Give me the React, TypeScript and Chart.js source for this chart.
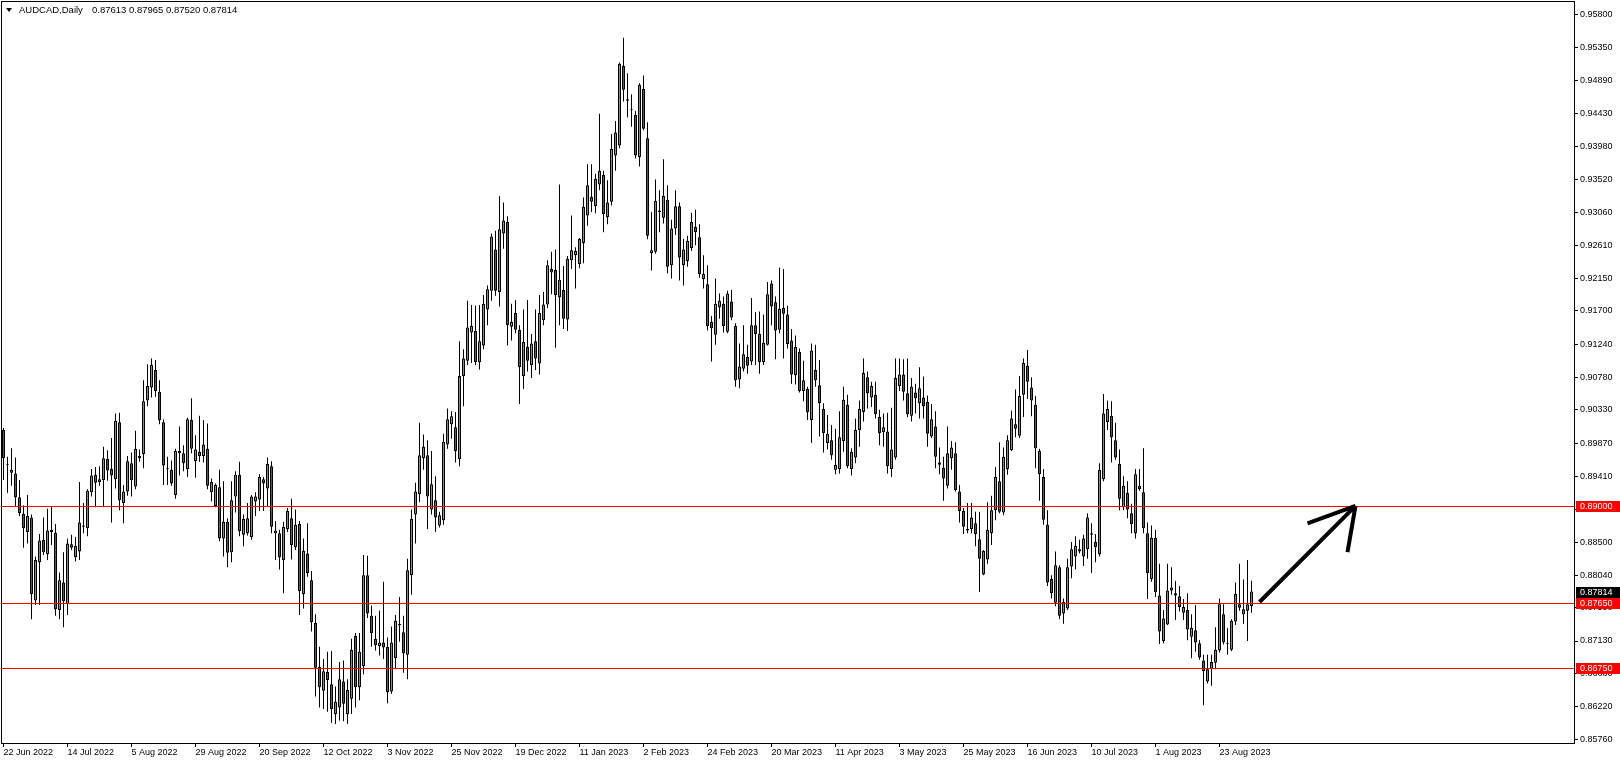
import React, { useEffect, useRef } from 'react';
import { Chart, registerables } from 'chart.js';

Chart.register(...registerables);

// ---------- data ----------
const symbolTitle = 'AUDCAD,Daily';
const headerValues = ['0.87613', '0.87965', '0.87520', '0.87814'];

const dateLabels = [
  '22 Jun 2022', '14 Jul 2022', '5 Aug 2022', '29 Aug 2022', '20 Sep 2022',
  '12 Oct 2022', '3 Nov 2022', '25 Nov 2022', '19 Dec 2022', '11 Jan 2023',
  '2 Feb 2023', '24 Feb 2023', '20 Mar 2023', '11 Apr 2023', '3 May 2023',
  '25 May 2023', '16 Jun 2023', '10 Jul 2023', '1 Aug 2023', '23 Aug 2023',
];
const barsPerLabel = 16;

const priceTicks = [
  0.958, 0.9535, 0.9489, 0.9443, 0.9398, 0.9352, 0.9306, 0.9261, 0.9215, 0.917,
  0.9124, 0.9078, 0.9033, 0.8987, 0.8941, 0.8895, 0.885, 0.8804, 0.8759, 0.8713,
  0.8668, 0.8622, 0.8576,
];

const opens = [
  0.9005, 0.8957, 0.8946, 0.8945, 0.8912, 0.8889, 0.8864, 0.8884, 0.8769, 0.8822,
  0.8853, 0.8833, 0.8867, 0.8863, 0.8756, 0.8794, 0.8764, 0.8847, 0.8829, 0.8837,
  0.8873, 0.8869, 0.8919, 0.8943, 0.8933, 0.8936, 0.8965, 0.8951, 0.8937, 0.9016,
  0.8904, 0.8920, 0.8959, 0.8927, 0.8966, 0.8972, 0.9046, 0.9064, 0.9088, 0.9058,
  0.9016, 0.8952, 0.8950, 0.8915, 0.8973, 0.8973, 0.8951, 0.9019, 0.8962, 0.8975,
  0.8969, 0.8979, 0.8919, 0.8900, 0.8926, 0.8855, 0.8878, 0.8836, 0.8913, 0.8943,
  0.8860, 0.8862, 0.8857, 0.8906, 0.8909, 0.8937, 0.8924, 0.8955, 0.8862, 0.8862,
  0.8825, 0.8868, 0.8883, 0.8843, 0.8875, 0.8778, 0.8834, 0.8797, 0.8738, 0.8677,
  0.8644, 0.8670, 0.8653, 0.8612, 0.8621, 0.8657, 0.8612, 0.8633, 0.8720, 0.8649,
  0.8678, 0.8804, 0.8748, 0.8716, 0.8706, 0.8711, 0.8705, 0.8643, 0.8689, 0.8737,
  0.8725, 0.8694, 0.8804, 0.8888, 0.8916, 0.8966, 0.8970, 0.8895, 0.8908, 0.8873,
  0.8880, 0.8985, 0.9013, 0.9009, 0.8965, 0.9080, 0.9101, 0.9140, 0.9142, 0.9099,
  0.9122, 0.9172, 0.9198, 0.9255, 0.9196, 0.9277, 0.9293, 0.9148, 0.9167, 0.9144,
  0.9080, 0.9120, 0.9095, 0.9128, 0.9097, 0.9157, 0.9179, 0.9228, 0.9227, 0.9189,
  0.9199, 0.9158, 0.9240, 0.9247, 0.9235, 0.9264, 0.9302, 0.9328, 0.9315, 0.9345,
  0.9358, 0.9300, 0.9321, 0.9385, 0.9399, 0.9509, 0.9463, 0.9449, 0.9441, 0.9383,
  0.9477, 0.9409, 0.9250, 0.9252, 0.9307, 0.9299, 0.9324, 0.9233, 0.9284, 0.9315,
  0.9233, 0.9239, 0.9257, 0.9286, 0.9272, 0.9214, 0.9207, 0.9155, 0.9137, 0.9175,
  0.9180, 0.9141, 0.9183, 0.9149, 0.9075, 0.9090, 0.9106, 0.9100, 0.9150, 0.9138,
  0.9099, 0.9123, 0.9208, 0.9182, 0.9144, 0.9174, 0.9165, 0.9129, 0.9081, 0.9113,
  0.9059, 0.9062, 0.9019, 0.9088, 0.9067, 0.9034, 0.8987, 0.8991, 0.8950, 0.8951,
  0.8990, 0.9040, 0.8951, 0.8967, 0.9005, 0.9030, 0.9078, 0.9050, 0.9054, 0.9023,
  0.9002, 0.9003, 0.8951, 0.8967, 0.9066, 0.9082, 0.9056, 0.9025, 0.9057, 0.9042,
  0.9050, 0.9044, 0.8996, 0.9010, 0.8960, 0.8953, 0.8928, 0.8966, 0.8973, 0.8920,
  0.8893, 0.8868, 0.8868, 0.8876, 0.8854, 0.8805, 0.8826, 0.8862, 0.8894, 0.8934,
  0.8891, 0.8951, 0.8977, 0.9013, 0.8997, 0.9054, 0.9094, 0.9064, 0.9040, 0.8976,
  0.8940, 0.8874, 0.8799, 0.8766, 0.8815, 0.8751, 0.8758, 0.8816, 0.8830, 0.8840,
  0.8830, 0.8840, 0.8862, 0.8850, 0.8833, 0.8937, 0.9016, 0.9025, 0.8991, 0.8958,
  0.8898, 0.8918, 0.8890, 0.8862, 0.8928, 0.8919, 0.8862, 0.8799, 0.8856, 0.8776,
  0.8713, 0.8736, 0.8783, 0.8779, 0.8775, 0.8752, 0.8756, 0.8719, 0.8728, 0.8710,
  0.8686, 0.8657, 0.8674, 0.8683, 0.8700, 0.8750, 0.8709, 0.8701, 0.8740, 0.8764,
  0.8750, 0.8755, 0.87613,
];

const highs = [
  0.9008, 0.8968, 0.8980, 0.8967, 0.8936, 0.8901, 0.8915, 0.8888, 0.8830, 0.8861,
  0.8884, 0.8896, 0.8900, 0.8875, 0.8808, 0.8836, 0.8855, 0.8860, 0.8857, 0.8933,
  0.8904, 0.8923, 0.8951, 0.8954, 0.8955, 0.8982, 0.8977, 0.8994, 0.9028, 0.9029,
  0.8929, 0.8969, 0.8974, 0.9004, 0.8978, 0.9074, 0.9096, 0.9104, 0.9102, 0.9074,
  0.9020, 0.8968, 0.8963, 0.8979, 0.9010, 0.8984, 0.9022, 0.9049, 0.8998, 0.9025,
  0.9019, 0.9014, 0.8938, 0.8931, 0.8950, 0.8934, 0.8883, 0.8934, 0.8948, 0.8961,
  0.8888, 0.8904, 0.8915, 0.8919, 0.8944, 0.8940, 0.8967, 0.8962, 0.8879, 0.8867,
  0.8878, 0.8897, 0.8910, 0.8895, 0.8879, 0.8855, 0.8876, 0.8810, 0.8750, 0.8705,
  0.8688, 0.8698, 0.8699, 0.8650, 0.8684, 0.8686, 0.8660, 0.8716, 0.8724, 0.8724,
  0.8832, 0.8831, 0.8762, 0.8748, 0.8755, 0.8795, 0.8718, 0.8733, 0.8749, 0.8774,
  0.8748, 0.8827, 0.8895, 0.8932, 0.9015, 0.8999, 0.8991, 0.8976, 0.8941, 0.8892,
  0.9000, 0.9035, 0.9031, 0.9030, 0.9128, 0.9117, 0.9184, 0.9178, 0.9177, 0.9178,
  0.9192, 0.9205, 0.9277, 0.9281, 0.9329, 0.9320, 0.9301, 0.9180, 0.9185, 0.9150,
  0.9172, 0.9185, 0.9138, 0.9172, 0.9192, 0.9196, 0.9240, 0.9252, 0.9255, 0.9345,
  0.9232, 0.9246, 0.9302, 0.9258, 0.9271, 0.9327, 0.9373, 0.9373, 0.9360, 0.9443,
  0.9364, 0.9351, 0.9415, 0.9433, 0.9514, 0.9548, 0.9499, 0.9470, 0.9447, 0.9485,
  0.9496, 0.9431, 0.9307, 0.9352, 0.9337, 0.9380, 0.9344, 0.9296, 0.9337, 0.9320,
  0.9270, 0.9274, 0.9306, 0.9310, 0.9290, 0.9247, 0.9233, 0.9163, 0.9215, 0.9194,
  0.9190, 0.9198, 0.9199, 0.9153, 0.9125, 0.9150, 0.9123, 0.9188, 0.9168, 0.9169,
  0.9165, 0.9210, 0.9212, 0.9190, 0.9230, 0.9228, 0.9177, 0.9145, 0.9136, 0.9118,
  0.9101, 0.9065, 0.9125, 0.9123, 0.9102, 0.9042, 0.9026, 0.9012, 0.9007, 0.9031,
  0.9065, 0.9054, 0.8980, 0.9021, 0.9046, 0.9104, 0.9086, 0.9072, 0.9072, 0.9033,
  0.9028, 0.9029, 0.9036, 0.9104, 0.9104, 0.9103, 0.9104, 0.9077, 0.9069, 0.9092,
  0.9079, 0.9053, 0.9041, 0.9031, 0.8981, 0.8968, 0.9010, 0.8990, 0.8988, 0.8929,
  0.8897, 0.8904, 0.8904, 0.8892, 0.8892, 0.8839, 0.8905, 0.8914, 0.8954, 0.8988,
  0.8981, 0.8998, 0.9032, 0.9061, 0.9080, 0.9104, 0.9116, 0.9078, 0.9052, 0.8979,
  0.8951, 0.8894, 0.8804, 0.8837, 0.8818, 0.8772, 0.8827, 0.8850, 0.8858, 0.8853,
  0.8860, 0.8890, 0.8876, 0.8861, 0.8959, 0.9055, 0.9046, 0.9045, 0.9015, 0.8978,
  0.8941, 0.8934, 0.8903, 0.8951, 0.8951, 0.8980, 0.8877, 0.8873, 0.8867, 0.8820,
  0.8756, 0.8820, 0.8815, 0.8796, 0.8789, 0.8771, 0.8779, 0.8750, 0.8763, 0.8714,
  0.8694, 0.8694, 0.8694, 0.8732, 0.8772, 0.8764, 0.8731, 0.8743, 0.8794, 0.8820,
  0.8798, 0.8825, 0.87965,
];

const lows = [
  0.8936, 0.8918, 0.8928, 0.8900, 0.8886, 0.8842, 0.8848, 0.8743, 0.8763, 0.8763,
  0.8832, 0.8825, 0.8846, 0.8748, 0.8743, 0.8732, 0.8749, 0.8839, 0.8823, 0.8825,
  0.8862, 0.8858, 0.8913, 0.8898, 0.8928, 0.8898, 0.8935, 0.8877, 0.8924, 0.8894,
  0.8876, 0.8914, 0.8913, 0.8923, 0.8961, 0.8952, 0.9038, 0.9050, 0.9051, 0.9013,
  0.8929, 0.8929, 0.8928, 0.8910, 0.8942, 0.8948, 0.8940, 0.8973, 0.8939, 0.8961,
  0.8960, 0.8923, 0.8906, 0.8898, 0.8851, 0.8830, 0.8815, 0.8822, 0.8891, 0.8858,
  0.8844, 0.8859, 0.8853, 0.8886, 0.8893, 0.8893, 0.8900, 0.8862, 0.8825, 0.8812,
  0.8779, 0.8864, 0.8826, 0.8839, 0.8749, 0.8758, 0.8802, 0.8726, 0.8636, 0.8621,
  0.8619, 0.8615, 0.8600, 0.8598, 0.8603, 0.8602, 0.8598, 0.8612, 0.8621, 0.8631,
  0.8667, 0.8745, 0.8705, 0.8700, 0.8693, 0.8688, 0.8627, 0.8640, 0.8674, 0.8712,
  0.8669, 0.8660, 0.8777, 0.8848, 0.8905, 0.8950, 0.8868, 0.8888, 0.8864, 0.8870,
  0.8874, 0.8979, 0.8993, 0.8960, 0.8955, 0.9038, 0.9095, 0.9098, 0.9095, 0.9089,
  0.9117, 0.9150, 0.9184, 0.9191, 0.9176, 0.9256, 0.9122, 0.9129, 0.9139, 0.9041,
  0.9062, 0.9086, 0.9077, 0.9088, 0.9082, 0.9150, 0.9174, 0.9193, 0.9119, 0.9150,
  0.9145, 0.9142, 0.9228, 0.9201, 0.9229, 0.9236, 0.9288, 0.9307, 0.9305, 0.9337,
  0.9279, 0.9290, 0.9316, 0.9364, 0.9395, 0.9460, 0.9438, 0.9425, 0.9381, 0.9370,
  0.9420, 0.9269, 0.9226, 0.9249, 0.9279, 0.9291, 0.9222, 0.9215, 0.9275, 0.9212,
  0.9205, 0.9231, 0.9253, 0.9261, 0.9216, 0.9201, 0.9143, 0.9100, 0.9123, 0.9159,
  0.9140, 0.9139, 0.9157, 0.9065, 0.9063, 0.9086, 0.9083, 0.9095, 0.9095, 0.9083,
  0.9095, 0.9122, 0.9150, 0.9103, 0.9139, 0.9104, 0.9118, 0.9069, 0.9068, 0.9057,
  0.9045, 0.9019, 0.8987, 0.9065, 0.8996, 0.8974, 0.8978, 0.8964, 0.8944, 0.8945,
  0.8975, 0.8952, 0.8942, 0.8959, 0.8982, 0.9017, 0.9035, 0.9037, 0.9021, 0.8984,
  0.8982, 0.8945, 0.8940, 0.8964, 0.9059, 0.9046, 0.9023, 0.9017, 0.9028, 0.9021,
  0.9021, 0.8982, 0.8994, 0.8952, 0.8944, 0.8907, 0.8924, 0.8950, 0.8920, 0.8877,
  0.8861, 0.8862, 0.8862, 0.8844, 0.8781, 0.8804, 0.8820, 0.8846, 0.8880, 0.8890,
  0.8887, 0.8943, 0.8976, 0.8995, 0.8994, 0.9023, 0.9048, 0.9024, 0.8952, 0.8907,
  0.8874, 0.8789, 0.8772, 0.8761, 0.8743, 0.8737, 0.8756, 0.8800, 0.8812, 0.8834,
  0.8817, 0.8827, 0.8807, 0.8822, 0.8830, 0.8934, 0.9005, 0.8960, 0.8964, 0.8894,
  0.8894, 0.8883, 0.8862, 0.8855, 0.8921, 0.8862, 0.8771, 0.8795, 0.8774, 0.8709,
  0.8710, 0.8735, 0.8777, 0.8742, 0.8754, 0.8742, 0.8714, 0.8689, 0.8698, 0.8687,
  0.8624, 0.8654, 0.8651, 0.8674, 0.8697, 0.8708, 0.8694, 0.8699, 0.8735, 0.8755,
  0.8737, 0.8713, 0.8752,
];

const closes = [
  0.8966, 0.8958, 0.8950, 0.8912, 0.8890, 0.8869, 0.8886, 0.8778, 0.8825, 0.8852,
  0.8836, 0.8866, 0.8864, 0.8757, 0.8797, 0.8768, 0.8848, 0.8842, 0.8845, 0.8877,
  0.8871, 0.8921, 0.8942, 0.8932, 0.8937, 0.8966, 0.8949, 0.8942, 0.9018, 0.8908,
  0.8920, 0.8962, 0.8936, 0.8979, 0.8969, 0.9045, 0.9066, 0.9095, 0.9059, 0.9019,
  0.8956, 0.8951, 0.8931, 0.8976, 0.8976, 0.8959, 0.9020, 0.8979, 0.8978, 0.8969,
  0.8985, 0.8928, 0.8933, 0.8929, 0.8855, 0.8878, 0.8835, 0.8908, 0.8943, 0.8865,
  0.8882, 0.8883, 0.8913, 0.8913, 0.8940, 0.8931, 0.8958, 0.8871, 0.8866, 0.8829,
  0.8871, 0.8893, 0.8846, 0.8874, 0.8782, 0.8838, 0.8807, 0.8739, 0.8676, 0.8649,
  0.8671, 0.8659, 0.8619, 0.8629, 0.8660, 0.8626, 0.8645, 0.8701, 0.8649, 0.8698,
  0.8804, 0.8751, 0.8724, 0.8707, 0.8711, 0.8704, 0.8642, 0.8711, 0.8741, 0.8735,
  0.8696, 0.8811, 0.8882, 0.8920, 0.8970, 0.8982, 0.8913, 0.8930, 0.8884, 0.8887,
  0.8989, 0.9020, 0.9024, 0.8976, 0.9080, 0.9104, 0.9147, 0.9149, 0.9099, 0.9128,
  0.9180, 0.9200, 0.9273, 0.9198, 0.9283, 0.9295, 0.9150, 0.9155, 0.9144, 0.9092,
  0.9127, 0.9101, 0.9125, 0.9104, 0.9167, 0.9179, 0.9233, 0.9223, 0.9192, 0.9213,
  0.9159, 0.9242, 0.9254, 0.9253, 0.9270, 0.9314, 0.9344, 0.9321, 0.9353, 0.9364,
  0.9304, 0.9320, 0.9394, 0.9417, 0.9512, 0.9476, 0.9461, 0.9448, 0.9385, 0.9483,
  0.9422, 0.9274, 0.9254, 0.9322, 0.9309, 0.9329, 0.9231, 0.9284, 0.9315, 0.9244,
  0.9255, 0.9267, 0.9293, 0.9279, 0.9221, 0.9221, 0.9149, 0.9146, 0.9180, 0.9184,
  0.9149, 0.9194, 0.9161, 0.9074, 0.9093, 0.9110, 0.9094, 0.9150, 0.9138, 0.9099,
  0.9126, 0.9193, 0.9176, 0.9143, 0.9173, 0.9166, 0.9124, 0.9082, 0.9120, 0.9059,
  0.9074, 0.9030, 0.9115, 0.9074, 0.9042, 0.9001, 0.9000, 0.8970, 0.8957, 0.8995,
  0.9047, 0.8955, 0.8975, 0.9005, 0.9034, 0.9084, 0.9056, 0.9066, 0.9027, 0.9001,
  0.9009, 0.8955, 0.8978, 0.9077, 0.9082, 0.9058, 0.9027, 0.9065, 0.9049, 0.9063,
  0.9038, 0.9000, 0.9020, 0.8968, 0.8957, 0.8938, 0.8973, 0.8981, 0.8922, 0.8893,
  0.8871, 0.8866, 0.8884, 0.8861, 0.8827, 0.8838, 0.8867, 0.8894, 0.8940, 0.8892,
  0.8968, 0.8991, 0.9021, 0.9007, 0.9052, 0.9098, 0.9072, 0.9046, 0.8980, 0.8944,
  0.8881, 0.8794, 0.8779, 0.8818, 0.8748, 0.8767, 0.8815, 0.8840, 0.8845, 0.8837,
  0.8855, 0.8884, 0.8860, 0.8843, 0.8950, 0.9028, 0.9034, 0.8995, 0.8967, 0.8910,
  0.8928, 0.8895, 0.8875, 0.8944, 0.8923, 0.8869, 0.8807, 0.8856, 0.8781, 0.8726,
  0.8744, 0.8783, 0.8787, 0.8776, 0.8760, 0.8760, 0.8729, 0.8731, 0.8711, 0.8690,
  0.8671, 0.8674, 0.8684, 0.8701, 0.8764, 0.8711, 0.8710, 0.8741, 0.8778, 0.8759,
  0.8757, 0.8764, 0.87814,
];

const levelLines = [0.89, 0.8765, 0.8675];
const currentPrice = 0.87814;

// hand-drawn arrow annotation, in (bar index, price)
const arrowTail = { bar: 314, price: 0.8767 };
const arrowTip = { bar: 338, price: 0.89 };
const arrowWingA = { bar: 326, price: 0.8876 };
const arrowWingB = { bar: 336, price: 0.8836 };

const futureSlots = 80; // MT4 chart shift space on the right

// ---------- styles ----------
const FONT = '"Liberation Sans", Arial, sans-serif';
const BULL = '#3CC03C';
const BEAR = '#F21C1C';
const LEVEL = '#FF0000';

export default function App() {
  const ref = useRef<HTMLCanvasElement>(null);

  useEffect(() => {
    document.body.style.margin = '0';
    const canvas = ref.current!;
    const n = closes.length;
    const slots = n + futureSlots;

    const bodies = opens.map((o, i) => ({ x: i, y: [o, closes[i]] }));
    const wicks = lows.map((l, i) => ({ x: i, y: [l, highs[i]] }));
    const bodyColors = opens.map((o, i) => (closes[i] >= o ? BULL : BEAR));

    const overlay = {
      id: 'mt4overlay',
      beforeDraw(chart: any) {
        const c = chart.ctx;
        c.save();
        c.fillStyle = '#ffffff';
        c.fillRect(0, 0, chart.width, chart.height);
        c.restore();
      },
      afterDatasetsDraw(chart: any) {
        const c = chart.ctx;
        const { left, right } = chart.chartArea;
        const xs = chart.scales.x;
        const ys = chart.scales.y;
        c.save();
        c.strokeStyle = LEVEL;
        c.lineWidth = 1;
        levelLines.forEach((p) => {
          const y = Math.round(ys.getPixelForValue(p)) + 0.5;
          c.beginPath();
          c.moveTo(left, y);
          c.lineTo(right, y);
          c.stroke();
        });
        // arrow
        const P = (pt: { bar: number; price: number }) => [
          xs.getPixelForValue(pt.bar),
          ys.getPixelForValue(pt.price),
        ];
        const [tx, ty] = P(arrowTail);
        const [hx, hy] = P(arrowTip);
        const [ax, ay] = P(arrowWingA);
        const [bx, by] = P(arrowWingB);
        c.strokeStyle = '#000';
        c.lineWidth = 4;
        c.lineCap = 'butt';
        c.beginPath();
        c.moveTo(tx, ty);
        c.lineTo(hx, hy);
        c.moveTo(ax, ay);
        c.lineTo(hx, hy);
        c.moveTo(bx, by);
        c.lineTo(hx, hy);
        c.stroke();
        c.restore();
      },
      afterDraw(chart: any) {
        const c = chart.ctx;
        const { left, right, top, bottom } = chart.chartArea;
        const ys = chart.scales.y;
        c.save();
        // frame
        c.strokeStyle = '#000';
        c.lineWidth = 1;
        c.strokeRect(left - 0.5, top - 0.5, right - left + 1, bottom - top + 1);
        // price boxes
        c.font = `9px ${FONT}`;
        c.textBaseline = 'middle';
        c.textAlign = 'left';
        const box = (p: number, bg: string) => {
          const y = Math.round(ys.getPixelForValue(p));
          c.fillStyle = bg;
          c.fillRect(right + 2, y - 5, chart.width - right - 2, 11);
          c.fillStyle = '#fff';
          c.fillText(p.toFixed(5), right + 6, y + 0.5);
        };
        box(currentPrice, '#000');
        levelLines.forEach((p) => box(p, LEVEL));
        // header
        c.fillStyle = '#000';
        c.beginPath();
        c.moveTo(6, 8);
        c.lineTo(12, 8);
        c.lineTo(9, 12);
        c.closePath();
        c.fill();
        c.font = `9.5px ${FONT}`;
        c.fillText(symbolTitle, 19, 10.5);
        c.fillText(headerValues.join(' '), 92, 10.5);
        c.restore();
      },
    };

    const chart = new Chart(canvas, {
      type: 'bar',
      data: {
        datasets: [
          {
            label: 'body',
            data: bodies as any,
            backgroundColor: bodyColors,
            borderColor: '#000',
            borderWidth: 1,
            borderSkipped: false,
            barThickness: 3,
            grouped: false,
            inflateAmount: 0,
          } as any,
          {
            label: 'wick',
            data: wicks as any,
            backgroundColor: '#000',
            borderWidth: 0,
            barThickness: 1,
            grouped: false,
            inflateAmount: 0,
          } as any,
        ],
      },
      options: {
        animation: false,
        responsive: false,
        devicePixelRatio: 1,
        layout: { padding: { left: 2, top: 2, right: 0, bottom: 0 } },
        plugins: {
          legend: { display: false },
          tooltip: { enabled: false },
          title: { display: false },
        },
        scales: {
          x: {
            type: 'linear',
            offset: false,
            min: -0.375,
            max: slots - 0.375,
            afterBuildTicks: (scale: any) => {
              scale.ticks = dateLabels.map((_, k) => ({ value: k * barsPerLabel }));
            },
            afterFit: (scale: any) => {
              scale.height = 21;
              scale.paddingLeft = 0;
              scale.paddingRight = 0;
            },
            ticks: {
              autoSkip: false,
              maxRotation: 0,
              minRotation: 0,
              align: 'start',
              padding: 0,
              color: '#000',
              font: { family: FONT, size: 9 },
              callback: (v: any) => dateLabels[Math.round(Number(v) / barsPerLabel)] ?? null,
            },
            grid: { offset: false, drawOnChartArea: false, drawTicks: true, tickLength: 4, color: '#000' },
            border: { display: false },
          },
          y: {
            type: 'linear',
            position: 'right',
            min: 0.85718,
            max: 0.95976,
            afterBuildTicks: (scale: any) => {
              scale.ticks = priceTicks.map((v) => ({ value: v }));
            },
            afterFit: (scale: any) => {
              scale.width = 46;
              scale.paddingTop = 0;
              scale.paddingBottom = 0;
            },
            ticks: {
              padding: 2,
              color: '#000',
              font: { family: FONT, size: 9 },
              callback: (v: any) => Number(v).toFixed(5),
            },
            grid: { drawOnChartArea: false, drawTicks: true, tickLength: 4, color: '#000' },
            border: { display: false },
          },
        },
      } as any,
      plugins: [overlay],
    });

    return () => chart.destroy();
  }, []);

  return (
    <div style={{ width: 1620, height: 764, position: 'relative', background: '#fff' }}>
      <canvas ref={ref} width={1620} height={764} style={{ display: 'block' }} />
    </div>
  );
}
